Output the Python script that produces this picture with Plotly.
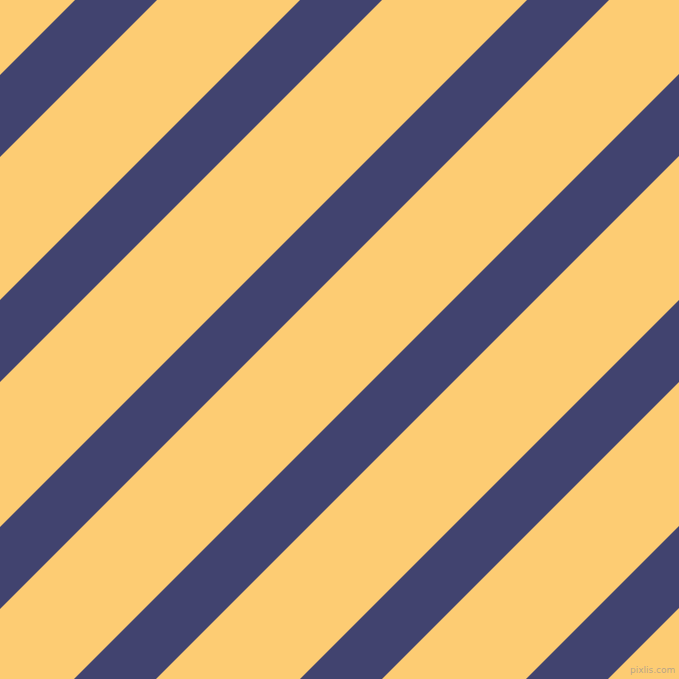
import plotly.graph_objects as go

# stripe bands, as ranges of (x + y) in pixels, image is 679 x 679
size = 679
band_start = [75, 300, 527, 753, 979, 1205]
band_end = [157, 382, 609, 835, 1061, 1287]

bg_color = '#FDCC73'
stripe_color = '#41436F'

fig = go.Figure()

for s, e in zip(band_start, band_end):
    # polygon of points with s <= x + y_down <= e, y_down measured from top
    xs = [s, e, e - size, s - size, s]
    ys_down = [0, 0, size, size, 0]
    fig.add_trace(go.Scatter(
        x=xs,
        y=[size - v for v in ys_down],
        fill='toself',
        fillcolor=stripe_color,
        line=dict(width=0, color=stripe_color),
        mode='lines',
        hoverinfo='skip',
        showlegend=False
    ))

fig.add_annotation(
    x=652, y=size - 670, xref='x', yref='y',
    text='pixlis.com', showarrow=False,
    yanchor='middle',
    font=dict(family='DejaVu Sans', size=9, color='rgba(175,160,140,0.9)')
)

fig.update_layout(
    width=size, height=size,
    margin=dict(l=0, r=0, t=0, b=0),
    paper_bgcolor=bg_color,
    plot_bgcolor=bg_color,
    xaxis=dict(range=[0, size], visible=False, fixedrange=True),
    yaxis=dict(range=[0, size], visible=False, fixedrange=True),
    showlegend=False
)

fig.write_html('out.html', config={'displayModeBar': False},
               post_script="document.body.style.margin='0';")
